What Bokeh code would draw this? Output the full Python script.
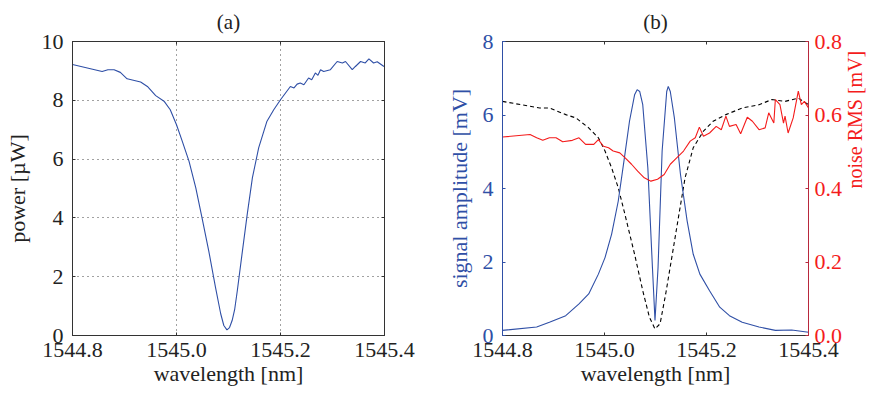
import math
from bokeh.plotting import figure
from bokeh.layouts import row
from bokeh.models import Range1d, LinearAxis, FixedTicker, PrintfTickFormatter, CustomJSTickFormatter
from bokeh.embed import file_html
from bokeh.resources import INLINE

# ---------------- data ----------------
x_ticks = [1544.8, 1545.0, 1545.2, 1545.4]
power_ticks = [0, 2, 4, 6, 8, 10]
signal_ticks = [0, 2, 4, 6, 8]
noise_ticks = [0.0, 0.2, 0.4, 0.6, 0.8]

wl_a = [1544.800, 1544.857, 1544.868, 1544.880, 1544.892, 1544.905, 1544.931, 1544.944,
        1544.960, 1544.976, 1544.988, 1545.000, 1545.011, 1545.024, 1545.037, 1545.049,
        1545.062, 1545.075, 1545.085, 1545.091, 1545.097, 1545.102, 1545.107, 1545.112,
        1545.117, 1545.126,
        1545.136, 1545.146, 1545.158, 1545.174, 1545.187, 1545.200, 1545.219, 1545.226,
        1545.232, 1545.238, 1545.245, 1545.254, 1545.260, 1545.267, 1545.272, 1545.277,
        1545.283, 1545.296, 1545.309, 1545.319, 1545.325, 1545.338, 1545.344, 1545.354,
        1545.363, 1545.370, 1545.379, 1545.386, 1545.399]
power_a = [9.22, 8.98, 9.04, 9.04, 8.95, 8.73, 8.62, 8.47,
           8.16, 7.97, 7.68, 7.17, 6.61, 5.93, 5.03, 4.01,
           2.88, 1.64, 0.74, 0.34, 0.19, 0.27, 0.51, 0.90,
           1.53, 2.77,
           4.12, 5.37, 6.38, 7.29, 7.68, 8.02, 8.47, 8.42,
           8.55, 8.59, 8.53, 8.76, 8.70, 8.93, 8.85, 9.04,
           8.98, 9.04, 9.32, 9.27, 9.32, 9.04, 9.15, 9.32,
           9.27, 9.41, 9.27, 9.31, 9.15]

wl_sig = [1544.800, 1544.867, 1544.892, 1544.924, 1544.950, 1544.969, 1544.988, 1545.001,
          1545.014, 1545.027, 1545.040, 1545.049, 1545.059, 1545.064, 1545.069, 1545.075,
          1545.085, 1545.094, 1545.099, 1545.105, 1545.113, 1545.122, 1545.125, 1545.129,
          1545.137, 1545.149, 1545.162, 1545.174, 1545.187, 1545.206, 1545.226, 1545.245,
          1545.270, 1545.303, 1545.335, 1545.367, 1545.400]
signal_b = [0.14, 0.23, 0.36, 0.54, 0.86, 1.13, 1.67, 2.12,
            2.76, 3.66, 4.93, 5.83, 6.55, 6.69, 6.64, 6.28,
            4.56, 1.85, 0.41, 1.85, 5.02, 6.64, 6.78, 6.64,
            5.92, 4.38, 3.12, 2.21, 1.67, 1.22, 0.77, 0.54,
            0.36, 0.23, 0.14, 0.15, 0.09]

wl_ref = [1544.800, 1544.873, 1544.892, 1544.924, 1544.944, 1544.969, 1544.988, 1545.001,
          1545.014, 1545.027, 1545.040, 1545.059, 1545.075, 1545.088, 1545.099, 1545.109,
          1545.120, 1545.133, 1545.146, 1545.158, 1545.174, 1545.194, 1545.213, 1545.238,
          1545.270, 1545.303, 1545.328, 1545.354, 1545.380, 1545.400]
ref_b = [6.37, 6.19, 6.19, 6.01, 5.92, 5.65, 5.38, 5.02,
         4.56, 4.02, 3.30, 2.21, 1.22, 0.50, 0.18, 0.32,
         1.13, 2.21, 3.30, 4.29, 5.11, 5.56, 5.83, 6.01,
         6.19, 6.28, 6.42, 6.37, 6.46, 6.28]

wl_noise = [1544.800, 1544.854, 1544.867, 1544.879, 1544.892, 1544.905, 1544.918, 1544.937,
            1544.950, 1544.963, 1544.979, 1544.988, 1544.998, 1545.008, 1545.017, 1545.030,
            1545.040, 1545.053, 1545.065, 1545.078, 1545.091, 1545.104, 1545.117, 1545.129,
            1545.142, 1545.155, 1545.168, 1545.178, 1545.186, 1545.194, 1545.206, 1545.219,
            1545.229, 1545.238, 1545.245, 1545.258, 1545.267, 1545.280, 1545.290, 1545.303,
            1545.315, 1545.322, 1545.332, 1545.335, 1545.344, 1545.351, 1545.354, 1545.360,
            1545.370, 1545.380, 1545.386, 1545.392, 1545.400]
noise_b = [0.540, 0.547, 0.538, 0.531, 0.538, 0.538, 0.527, 0.531,
           0.538, 0.520, 0.520, 0.533, 0.515, 0.511, 0.502, 0.497,
           0.484, 0.466, 0.447, 0.429, 0.420, 0.425, 0.438, 0.466,
           0.484, 0.502, 0.529, 0.538, 0.567, 0.542, 0.551, 0.569,
           0.560, 0.597, 0.569, 0.574, 0.549, 0.594, 0.583, 0.560,
           0.565, 0.606, 0.578, 0.642, 0.628, 0.578, 0.597, 0.551,
           0.592, 0.665, 0.628, 0.637, 0.619]

# ---------------- style ----------------
FONT = "Liberation Serif"
BLUE = "#2f4fa6"
RED = "#f41c1c"
TXT = "#222222"
FRAME = "#333333"
TICK_FS = "22px"
LABEL_FS = "22px"


def style_axis(ax, color=TXT, line_color=FRAME, labels=True, label_standoff=8, tick_standoff=8,
               label_fs=LABEL_FS):
    ax.axis_line_color = line_color
    ax.axis_line_width = 1
    ax.major_tick_line_color = line_color
    ax.major_tick_in = 3
    ax.major_tick_out = 0
    ax.minor_tick_line_color = None
    ax.major_label_text_font = FONT
    ax.major_label_text_font_size = TICK_FS
    ax.major_label_text_color = color
    ax.major_label_standoff = tick_standoff
    ax.axis_label_text_font = FONT
    ax.axis_label_text_font_size = label_fs
    ax.axis_label_text_font_style = "normal"
    ax.axis_label_text_color = color
    ax.axis_label_standoff = label_standoff
    if not labels:
        ax.formatter = CustomJSTickFormatter(code="return '';")
        ax.major_label_standoff = 0


def make_fig(title, left, right):
    p = figure(width=440, height=393, output_backend="svg", toolbar_location=None,
               x_range=Range1d(1544.8, 1545.4), min_border_left=left, min_border_right=right,
               min_border_top=40, min_border_bottom=58, title=title)
    p.title.align = "center"
    p.title.text_font = FONT
    p.title.text_font_size = "21px"
    p.title.text_font_style = "normal"
    p.title.text_color = TXT
    p.title.standoff = 15
    p.background_fill_color = "white"
    p.border_fill_color = "white"
    return p


# ---------------- panel (a) ----------------
pa = make_fig("(a)", 72, 56)
pa.y_range = Range1d(0, 10)
pa.line(wl_a, power_a, color=BLUE, line_width=1.1)
pa.xaxis.ticker = FixedTicker(ticks=x_ticks)
pa.xaxis.formatter = PrintfTickFormatter(format="%.1f")
pa.yaxis.ticker = FixedTicker(ticks=power_ticks)
pa.xaxis.axis_label = "wavelength [nm]"
pa.yaxis.axis_label = "power [µW]"
style_axis(pa.xaxis[0], label_standoff=1, tick_standoff=7)
style_axis(pa.yaxis[0], label_standoff=9, tick_standoff=9)
pa.xgrid.ticker = FixedTicker(ticks=x_ticks)
pa.ygrid.ticker = FixedTicker(ticks=power_ticks)
for g in (pa.xgrid[0], pa.ygrid[0]):
    g.grid_line_color = "#444444"
    g.grid_line_dash = "1 4"
    g.grid_line_width = 1
pa.outline_line_color = FRAME
top_a = LinearAxis(ticker=FixedTicker(ticks=x_ticks))
right_a = LinearAxis(ticker=FixedTicker(ticks=power_ticks))
style_axis(top_a, labels=False)
style_axis(right_a, labels=False)
pa.add_layout(top_a, "above")
pa.add_layout(right_a, "right")

# ---------------- panel (b) ----------------
pb = make_fig("(b)", 62, 66)
pb.y_range = Range1d(0, 8)
pb.extra_y_ranges = {"noise": Range1d(0, 0.8)}
pb.xgrid.visible = False
pb.ygrid.visible = False
pb.line(wl_ref, ref_b, color="black", line_width=1.1, line_dash="4 3")
pb.line(wl_sig, signal_b, color=BLUE, line_width=1.1)
pb.line(wl_noise, noise_b, color=RED, line_width=1.1, y_range_name="noise")
pb.xaxis.ticker = FixedTicker(ticks=x_ticks)
pb.xaxis.formatter = PrintfTickFormatter(format="%.1f")
pb.yaxis.ticker = FixedTicker(ticks=signal_ticks)
pb.xaxis.axis_label = "wavelength [nm]"
pb.yaxis.axis_label = "signal amplitude [mV]"
style_axis(pb.xaxis[0], label_standoff=1, tick_standoff=7)
style_axis(pb.yaxis[0], color=BLUE, line_color=BLUE, label_standoff=8, tick_standoff=9)
right_b = LinearAxis(y_range_name="noise", ticker=FixedTicker(ticks=noise_ticks),
                     formatter=PrintfTickFormatter(format="%.1f"),
                     axis_label="noise RMS [mV]")
style_axis(right_b, color=RED, line_color="#b8283c", label_standoff=10, tick_standoff=6,
           label_fs="20px")
right_b.axis_label_orientation = math.pi / 2
pb.add_layout(right_b, "right")
top_b = LinearAxis(ticker=FixedTicker(ticks=x_ticks))
style_axis(top_b, labels=False)
pb.add_layout(top_b, "above")
pb.outline_line_color = None

layout = row(pa, pb)
open("out.html", "w").write(file_html(layout, INLINE))
